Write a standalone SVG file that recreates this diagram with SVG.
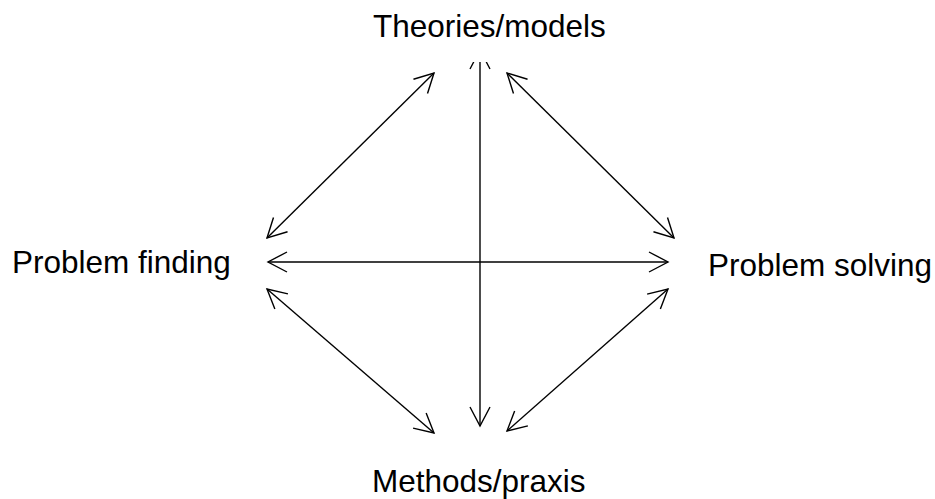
<svg xmlns="http://www.w3.org/2000/svg" width="935" height="499" viewBox="0 0 935 499">
<style>
.lbl{font-family:"Liberation Sans",Arial,sans-serif;font-size:31.5px;fill:#000}
.edge{stroke:#000;stroke-width:1.4;fill:none;marker-start:url(#ah);marker-end:url(#ah)}
</style>
<defs>
<marker id="ah" markerUnits="userSpaceOnUse" markerWidth="30" markerHeight="30" viewBox="-25 -15 30 30" refX="0" refY="0" orient="auto-start-reverse" overflow="visible">
<path d="M-19,-10 L0,0 L-19,10" fill="none" stroke="#000" stroke-width="1.4"/>
</marker>
</defs>
<rect width="935" height="499" fill="#fff"/>
<g id="connectors">
<line class="edge" x1="480" y1="50" x2="480" y2="426"/>
<line class="edge" x1="268" y1="262" x2="668" y2="262"/>
<line class="edge" x1="434" y1="73" x2="267" y2="238"/>
<line class="edge" x1="507" y1="73" x2="674" y2="238"/>
<line class="edge" x1="267" y1="289" x2="434" y2="433"/>
<line class="edge" x1="668" y1="289" x2="507" y2="431"/>
</g>
<g id="theories">
<rect x="360" y="0" width="260" height="62" fill="#fff"/>
<text class="lbl" x="373" y="37">Theories/models</text>
</g>
<g id="finding">
<text class="lbl" x="12" y="272.5">Problem finding</text>
</g>
<g id="solving">
<text class="lbl" x="708" y="275.5">Problem solving</text>
</g>
<g id="methods">
<text class="lbl" x="372" y="491.5">Methods/praxis</text>
</g>
</svg>
